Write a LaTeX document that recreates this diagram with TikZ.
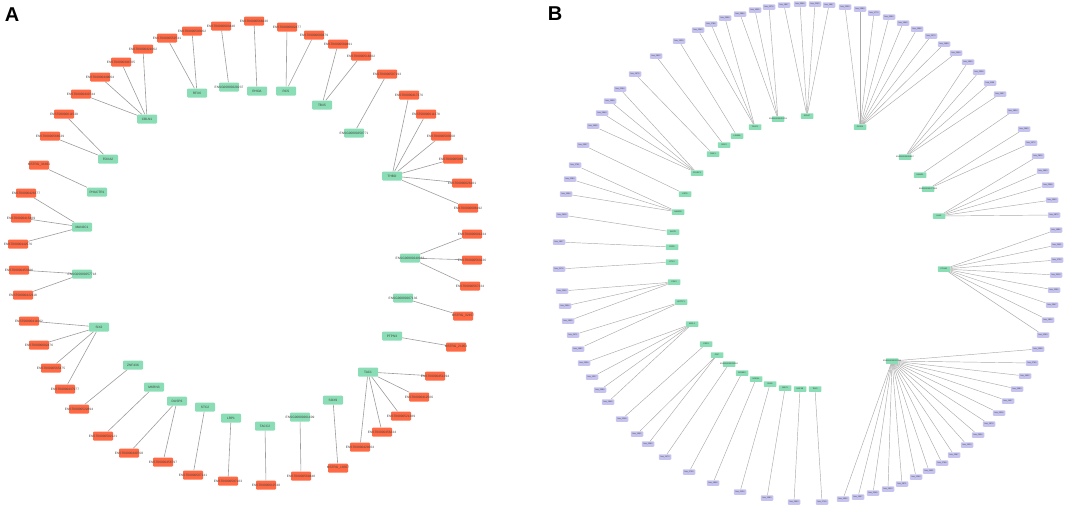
\documentclass[tikz,border=0pt]{standalone}
\usepackage{fontspec}
\setmainfont{Liberation Sans}
\usetikzlibrary{backgrounds}
\definecolor{lncred}{HTML}{FF6A45}
\definecolor{genegreen}{HTML}{8ADDB5}
\definecolor{mirpurple}{HTML}{C6C4EE}
\definecolor{edgegray}{HTML}{9C9C9C}

\begin{document}
\begin{tikzpicture}[x=1pt,y=-1pt,
	tag/.style={font=\fontsize{3.2}{3.6}\selectfont, text=black!75, inner sep=0pt},
	smalltag/.style={font=\fontsize{2}{2.4}\selectfont, text=black!80, inner sep=0pt},
	lnc/.style={fill=lncred, rounded corners=1pt, minimum width=20pt, minimum height=9pt, inner sep=0pt, label={[tag]center:#1}},
	gene/.style={fill=genegreen, rounded corners=1pt, minimum width=20pt, minimum height=9pt, inner sep=0pt, label={[tag]center:#1}},
	hub/.style={fill=genegreen, rounded corners=0.5pt, minimum width=12.5pt, minimum height=5.5pt, inner sep=0pt, label={[smalltag]center:#1}},
	mirna/.style={fill=mirpurple, rounded corners=0.8pt, minimum width=12.5pt, minimum height=5.5pt, inner sep=0pt, label={[smalltag]center:#1}},
	link/.style={draw=edgegray, line width=0.6pt},
	thinlink/.style={draw=edgegray!85, line width=0.45pt},
	panel/.style={font=\bfseries\fontsize{20}{20}\selectfont, inner sep=0pt}]

	\useasboundingbox (0,0) rectangle (1065,506);

	\node[panel] (pa) at (12,15) {A};
	\node[panel] (pb) at (555,14) {B};

	% panel A: genes
	\foreach \n/\x/\y/\t in {
		phactr/97/192/PHACTR1, manc/82/227/MAN2C1, ensga/82/274/ENSG00000257718,
		six/99/327/SIX2, znf/133/365/ZNF436, mkrn/154/387/MKRN3, dusp/177/401/DUSP6,
		stc/205/407/STC2, lrp/231/418/LRP1, tacc/265/426/TACC2, ensgb/300/417/ENSG00000261409,
		sox/333/400/SOX9, tac/368/372/TAC1, ptpn/392/336/PTPN3, ensgc/403/298/ENSG00000267136,
		ensgd/410/258/ENSG00000240963, thbd/392/176/THBD, ensge/354/133/ENSG00000250771,
		tbx/322/105/TBX5, rcs/286/91/RCS, rhoa/257/91/RHOA, ensgf/229/87/ENSG00000228237,
		rfx/197/93/RFX6, cbln/147/119/CBLN1, foxa/108/159/FOXA2}
		\node[gene=\t] (\n) at (\x,\y) {};

	% panel A: lncRNAs
	\foreach \h/\x/\y/\t [count=\i] in {
		phactr/39/165/MSTRG\_34461,
		manc/26/193/ENST00000426377, manc/21/218/ENST00000415409, manc/18/244/ENST00000442576,
		ensga/19/270/ENST00000453386, ensga/23/295/ENST00000422118,
		six/29/321/ENST00000411062, six/39/345/ENST00000602476, six/51/368/ENST00000565475, six/65/389/ENST00000437977,
		znf/79/409/ENST00000522894, mkrn/103/436/ENST00000502121,
		dusp/129/453/ENST00000440768, dusp/163/462/ENST00000456797,
		stc/193/475/ENST00000507141, lrp/228/481/ENST00000597183, tacc/266/485/ENST00000610748,
		ensgb/301/476/ENST00000569448, sox/338/468/MSTRG\_18357,
		tac/360/447/ENST00000429204, tac/382/432/ENST00000456334, tac/401/416/ENST00000521389,
		tac/419/397/ENST00000412506, tac/435/376/ENST00000451294,
		ptpn/456/347/MSTRG\_21953, ensgc/463/316/MSTRG\_32157,
		ensgd/470/286/ENST00000567234, ensgd/472/260/ENST00000563236, ensgd/472/234/ENST00000601234,
		thbd/468/208/ENST00000608192, thbd/462/183/ENST00000626181, thbd/453/159/ENST00000506370,
		thbd/441/136/ENST00000503568, thbd/426/114/ENST00000611378, thbd/409/95/ENST00000417376,
		ensge/387/74/ENST00000507193, tbx/361/56/ENST00000518302, tbx/338/44/ENST00000589491,
		rcs/314/35/ENST00000600479, rcs/287/27/ENST00000602477, rhoa/254/21/ENST00000568230,
		ensgf/221/26/ENST00000603440, rfx/192/31/ENST00000593062, rfx/167/38/ENST00000559741,
		cbln/143/49/ENST00000421062, cbln/121/62/ENST00000394705, cbln/100/77/ENST00000449064,
		cbln/81/94/ENST00000430744, foxa/64/114/ENST00000611539, foxa/50/136/ENST00000566539}
	{
		\node[lnc=\t] (l\i) at (\x,\y) {};
		\begin{pgfonlayer}{background}
			\draw[link] (l\i) -- (\h);
		\end{pgfonlayer}
	}

	% panel B: genes
	\foreach \n/\x/\y/\t in {
		b1/778/119/ENSG00000253706, b2/807/116/SOX17, b3/860/127/GATA4, b4/905/157/ENSG00000260807,
		b5/920/175/HAND1, b6/928/189/ENSG00000272398, b7/939/216/LHX1, b8/944/269/FOXA1,
		b9/892/361/ENSG00000225783, b10/815/389/TBX3, b11/800/389/HNF1B, b12/785/388/MSX1,
		b13/770/384/PAX6, b14/756/379/NODAL, b15/742/373/EOMES, b16/729/364/ENSG00000230590,
		b17/717/355/GSC, b18/706/344/CER1, b19/692/324/MIXL1, b20/681/302/LEFTY1,
		b21/674/282/CDX2, b22/672/262/OTX2, b23/672/247/FGF8, b24/673/232/WNT3,
		b25/678/212/NANOG, b26/685/194/KRT8, b27/697/173/POU5F1, b28/713/154/DKK1,
		b29/724/145/SOX2, b30/737/136/LIN28A, b31/755/127/TDGF1}
		\node[hub=\t] (\n) at (\x,\y) {};

	% panel B: miRNAs
	\foreach \h/\x/\y/\t [count=\i] in {
		b1/740/14/2894, b1/755/10/1305, b1/769/7/2276,
		b2/784/5/1807, b2/800/4/3396, b2/815/4/2150, b2/829/5/1867,
		b3/845/7/1209, b3/860/9/2389, b3/874/13/1770, b3/889/17/3064, b3/903/23/1945,
		b3/917/29/1598, b3/931/36/2073, b3/944/44/1488, b3/956/53/2609,
		b4/968/62/1903, b4/979/72/2308, b4/990/83/1156, b4/1000/94/2937,
		b5/1013/111/1824,
		b6/1024/129/2460, b6/1031/143/1372,
		b7/1038/156/2815, b7/1043/171/1693, b7/1048/185/2098, b7/1052/200/1540, b7/1054/215/2872,
		b8/1056/230/1986, b8/1057/245/2401, b8/1057/260/1733, b8/1056/275/3019,
		b8/1054/290/1265, b8/1052/305/2547, b8/1048/320/1824, b8/1043/335/2193,
		b9/1038/349/1398, b9/1032/363/2765, b9/1025/376/1632, b9/1017/389/2980,
		b9/1008/401/1457, b9/999/413/2316, b9/989/424/1879, b9/978/435/2654,
		b9/967/445/1523, b9/954/455/2087, b9/942/463/1768, b9/929/471/2431,
		b9/916/477/1294, b9/902/484/2871, b9/888/489/1610, b9/873/493/2245,
		b9/858/497/1937, b9/843/499/2502,
		b10/822/502/1718, b11/794/502/2693, b12/767/498/1380, b13/740/492/2124,
		b14/713/483/1856, b15/689/472/2759, b16/665/457/1473,
		b17/648/444/2360, b17/637/434/1592,
		b18/622/419/2208,
		b19/608/402/1946, b19/600/390/2589, b19/592/377/1317, b19/584/363/2036,
		b20/578/349/1682, b20/573/335/2471,
		b21/568/321/1905, b21/565/306/2634, b21/562/291/1249,
		b22/559/269/2176, b23/559/242/1827, b24/562/215/2918,
		b25/566/194/1564, b25/570/179/2283, b25/575/165/1791,
		b26/583/145/2357,
		b27/593/126/1436, b27/602/113/2649, b27/610/101/1958, b27/620/89/2194,
		b28/635/74/1675, b29/656/56/2812, b30/679/41/1529,
		b31/698/30/2043, b31/711/24/1786, b31/725/18/2398}
	{
		\node[mirna=hsa\_\t] (m\i) at (\x,\y) {};
		\begin{pgfonlayer}{background}
			\draw[thinlink] (m\i) -- (\h);
		\end{pgfonlayer}
	}
\end{tikzpicture}
\end{document}
